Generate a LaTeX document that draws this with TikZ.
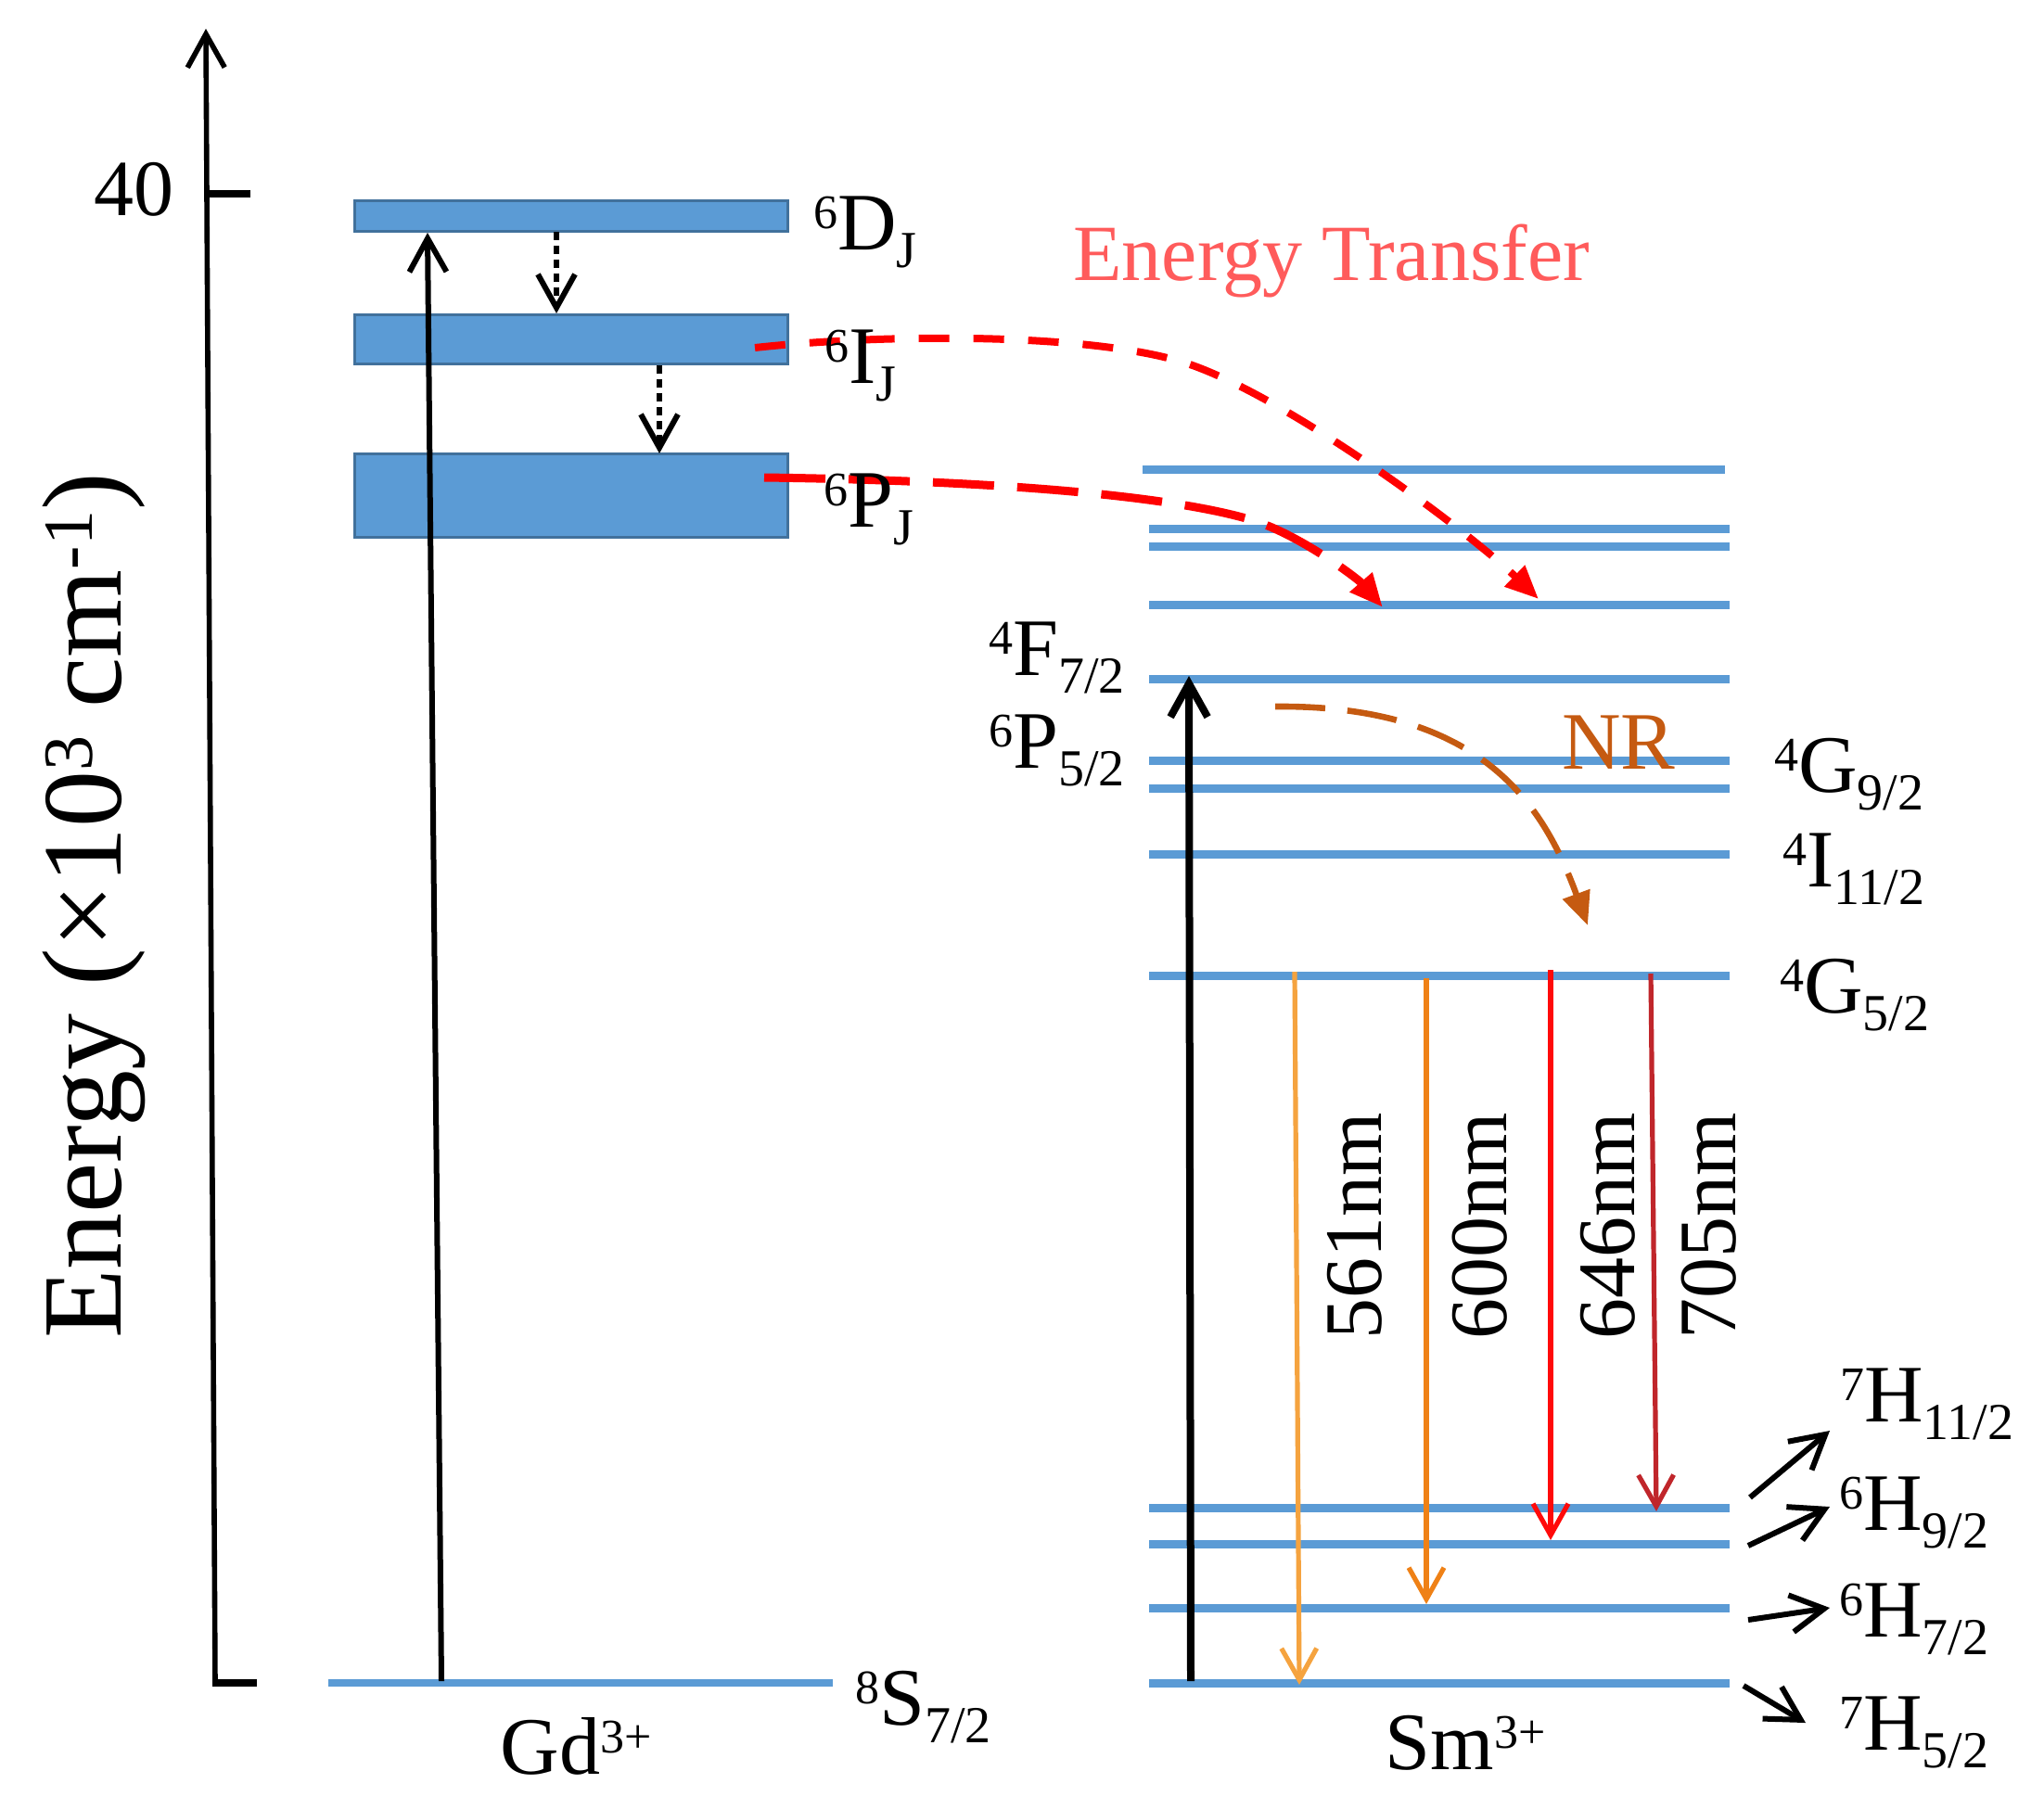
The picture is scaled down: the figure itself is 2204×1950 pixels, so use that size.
\documentclass[tikz,border=0pt]{standalone}
\usepackage{fontspec}
\setmainfont{Liberation Serif}
\usetikzlibrary{arrows.meta}
\definecolor{lvl}{HTML}{5B9BD5}
\definecolor{lvlb}{HTML}{41719C}
\definecolor{etc}{HTML}{FF5B5B}
\definecolor{nrc}{HTML}{C55A11}
\definecolor{eA}{HTML}{F5A33F}
\definecolor{eB}{HTML}{EF8116}
\definecolor{eC}{HTML}{FF0A0A}
\definecolor{eD}{HTML}{C0262B}
\definecolor{etr}{HTML}{FF0000}
\newcommand\fsz[1]{\fontsize{#1}{#1}\selectfont}
\newcommand\sups[1]{\raisebox{11.5pt}{\fsz{26}#1}}
\newcommand\subs[1]{\raisebox{-9.5pt}{\fsz{28}#1}}
\newcommand\term[3]{\sups{#1}#2\subs{#3}}
\tikzset{
  lbl/.style={inner sep=0pt, font=\fsz{44}},
  level/.style={draw=lvl, line width=4.5pt},
  gdbox/.style={fill=lvl, draw=lvlb, line width=1.5pt},
  barb/.style={-{Straight Barb[length=18pt,width=20pt]}},
  sbarb/.style={-{Straight Barb[length=17pt,width=19pt]}},
  tri/.style={-{Triangle[length=18pt,width=15pt]}},
}
\begin{document}
\begin{tikzpicture}[x=0.5pt,y=-0.5pt]
\useasboundingbox (0,0) rectangle (2204,1950);

% ---------- axis ----------
\coordinate (axB) at (232,1815);
\coordinate (axT) at (222,31);
\draw[line width=2.8pt, barb] (axB) -- (axT);
\draw[line width=3.8pt] (229,1815) -- (277,1815);
\draw[line width=3.8pt] (226,209) -- (270,209);
\node[inner sep=0pt, anchor=base, font=\fsz{43}] (t40) at (144,232) {40};
\node[inner sep=0pt, anchor=base, rotate=90, font=\fsz{61}] (ylab) at (130,977)
  {Energy (×10\raisebox{15.5pt}{\fsz{38}3} cm\raisebox{15.5pt}{\fsz{38}-1})};

% ---------- Gd levels ----------
\path[gdbox] (382,216) rectangle (849,249);
\path[gdbox] (382,339) rectangle (849,392);
\path[gdbox] (382,489) rectangle (849,579);
\draw[level, line width=4pt] (354,1815) -- (898,1815);

\coordinate (gdA0) at (476,1813);
\coordinate (gdA1) at (461,251);
\draw[line width=3pt, barb] (gdA0) -- (gdA1);
\coordinate (d1a) at (600,250);
\coordinate (d1b) at (600,338);
\coordinate (d2a) at (711,394);
\coordinate (d2b) at (711,489);
\draw[line width=3pt, dash pattern=on 4.5pt off 3pt, barb] (d1a) -- (d1b);
\draw[line width=3pt, dash pattern=on 4.5pt off 3pt, barb] (d2a) -- (d2b);

% ---------- Sm levels ----------
\draw[level] (1232,506) -- (1860,506);
\foreach \yy in {570,589,652,732,820,850,921,1052,1626,1665,1734,1815}
  \draw[level] (1239,\yy) -- (1865,\yy);

\coordinate (smA0) at (1284,1813);
\coordinate (smA1) at (1282,729);
\draw[line width=4pt, barb] (smA0) -- (smA1);

% emissions
\coordinate (e1a) at (1396,1048); \coordinate (e1b) at (1401,1817);
\coordinate (e2a) at (1538,1055); \coordinate (e2b) at (1538,1730);
\coordinate (e3a) at (1672,1046); \coordinate (e3b) at (1672,1661);
\coordinate (e4a) at (1780,1050); \coordinate (e4b) at (1786,1630);
\draw[eA, line width=2.6pt, sbarb] (e1a) -- (e1b);
\draw[eB, line width=2.6pt, sbarb] (e2a) -- (e2b);
\draw[eC, line width=2.6pt, sbarb] (e3a) -- (e3b);
\draw[eD, line width=2.6pt, sbarb] (e4a) -- (e4b);

% ---------- energy transfer curves ----------
\coordinate (etA0) at (814,375);
\coordinate (etAm) at (1283,393);
\coordinate (etA1) at (1659,646);
\draw[etr, line width=4pt, dash pattern=on 16.5pt off 13pt, tri]
  (etA0) .. controls (950,360) and (1180,358) .. (etAm)
         .. controls (1390,430) and (1580,570) .. (etA1);
\coordinate (etB0) at (824,515);
\coordinate (etBm) at (1347,560);
\coordinate (etB1) at (1491,655);
\draw[etr, line width=4.5pt, dash pattern=on 33pt off 12.5pt, tri]
  (etB0) .. controls (1050,518) and (1250,532) .. (etBm)
         .. controls (1400,575) and (1465,625) .. (etB1);

% NR
\coordinate (nr0) at (1375,762);
\coordinate (nr1) at (1712,998);
\draw[nrc, line width=3.3pt, dash pattern=on 27pt off 12pt, tri]
  (nr0) .. controls (1600,760) and (1665,870) .. (nr1);

% small arrows
\coordinate (s1a) at (1887,1615); \coordinate (s1b) at (1973,1543);
\coordinate (s2a) at (1885,1667); \coordinate (s2b) at (1973,1625);
\coordinate (s3a) at (1885,1747); \coordinate (s3b) at (1973,1734);
\coordinate (s4a) at (1880,1818); \coordinate (s4b) at (1947,1858);
\foreach \a/\b in {s1a/s1b,s2a/s2b,s3a/s3b,s4a/s4b}
  \draw[line width=3pt, barb] (\a) -- (\b);

% ---------- labels ----------
\node[lbl, anchor=base west] (lD) at (877,269) {\term{6}{D}{J}};
\node[lbl, anchor=base west] (lI) at (889,413) {\term{6}{I}{J}};
\node[lbl, anchor=base west] (lP) at (888,568) {\term{6}{P}{J}};
\node[lbl, anchor=base west] (lS) at (922,1860) {\term{8}{S}{7/2}};
\node[lbl, anchor=base] (lGd) at (621,1913) {Gd\sups{3+}};

\node[lbl, anchor=base east] (lF) at (1213,728) {\term{4}{F}{7/2}};
\node[lbl, anchor=base east] (lP5) at (1213,828) {\term{6}{P}{5/2}};
\node[lbl, anchor=base west] (lG9) at (1913,854) {\term{4}{G}{9/2}};
\node[lbl, anchor=base west] (lI11) at (1922,956) {\term{4}{I}{11/2}};
\node[lbl, anchor=base west] (lG5) at (1919,1092) {\term{4}{G}{5/2}};
\node[lbl, anchor=base west] (lH11) at (1984,1533) {\term{7}{H}{11/2}};
\node[lbl, anchor=base west] (lH9) at (1983,1650) {\term{6}{H}{9/2}};
\node[lbl, anchor=base west] (lH7) at (1983,1765) {\term{6}{H}{7/2}};
\node[lbl, anchor=base west] (lH5) at (1983,1887) {\term{7}{H}{5/2}};
\node[lbl, anchor=base] (lSm) at (1580,1908) {Sm\sups{3+}};

\node[lbl, anchor=base west, text=etc, font=\fsz{43}] (lET) at (1157,302) {Energy Transfer};
\node[lbl, anchor=base west, text=nrc] (lNR) at (1684,829) {NR};

\node[lbl, rotate=90] (w1) at (1461,1322) {561nm};
\node[lbl, rotate=90] (w2) at (1596,1322) {600nm};
\node[lbl, rotate=90] (w3) at (1734,1322) {646nm};
\node[lbl, rotate=90] (w4) at (1843,1322) {705nm};
\end{tikzpicture}
\end{document}
